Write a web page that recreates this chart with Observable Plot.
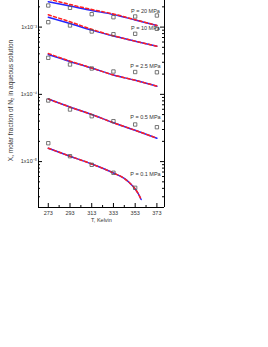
<!DOCTYPE html>
<html><head><meta charset="utf-8">
<script src="https://cdn.jsdelivr.net/npm/d3@7"></script>
<script src="https://cdn.jsdelivr.net/npm/@observablehq/plot@0.6"></script>
<style>body{margin:0;background:#fff} svg{display:block}</style>
</head><body><div id="chart"></div>
<script>
// Temperatures (K)
const T = [273, 293, 313, 333, 353, 373];
const T01 = [273, 293, 313, 333, 343, 348, 353, 356, 358.5];
const T01sq = [273, 293, 313, 333, 353];

// Model curves (blue solid) and second model (red dashed), molar fraction
const blue20 = [2.387e-3, 2.06e-3, 1.766e-3, 1.539e-3, 1.276e-3, 1.057e-3];
const red20  = [2.618e-3, 2.168e-3, 1.827e-3, 1.567e-3, 1.288e-3, 1.057e-3];
const blue10 = [1.403e-3, 1.131e-3, 9.02e-4, 7.35e-4, 6.17e-4, 5.20e-4];
const red10  = [1.523e-3, 1.199e-3, 9.27e-4, 7.42e-4, 6.19e-4, 5.20e-4];
const blue25 = [3.914e-4, 3.080e-4, 2.464e-4, 1.939e-4, 1.618e-4, 1.322e-4];
const red25  = [4.05e-4, 3.122e-4, 2.464e-4, 1.939e-4, 1.618e-4, 1.322e-4];
const blue05 = [8.53e-5, 6.48e-5, 5.016e-5, 3.776e-5, 2.920e-5, 2.228e-5];
const red05  = [8.53e-5, 6.48e-5, 5.016e-5, 3.776e-5, 2.920e-5, 2.228e-5];
const blue01 = [1.582e-5, 1.203e-5, 9.21e-6, 6.77e-6, 5.61e-6, 4.81e-6, 3.914e-6, 3.298e-6, 2.732e-6];
const red01  = [1.582e-5, 1.203e-5, 9.21e-6, 6.77e-6, 5.61e-6, 4.81e-6, 3.914e-6, 3.298e-6, 2.732e-6];

// Experimental points (open squares)
const sq20 = [2.095e-3, 1.936e-3, 1.556e-3, 1.403e-3, 1.438e-3, 1.487e-3];
const sq10 = [1.183e-3, 1.057e-3, 8.60e-4, 7.84e-4, 7.95e-4, 9.43e-4];
const sq25 = [3.495e-4, 2.779e-4, 2.423e-4, 2.186e-4, 2.149e-4, 2.127e-4];
const sq05 = [8.10e-5, 5.95e-5, 4.73e-5, 3.99e-5, 3.563e-5, 3.247e-5];
const sq01 = [1.877e-5, 1.203e-5, 8.96e-6, 6.82e-6, 4.076e-6];

// Pressure labels
const labels = ["P = 20 MPa", "P = 10 MPa", "P = 2.5 MPa", "P = 0.5 MPa", "P = 0.1 MPa"];
const labelT = 362.5;
const labelV = [1.723e-3, 9.53e-4, 2.640e-4, 4.572e-5, 6.43e-6];

// Ticks
const xMajor = [273, 293, 313, 333, 353, 373];
const xMinor = [283, 303, 323, 343, 363];
const yMajor = [1e-5, 1e-4, 1e-3];
const yMajorLabels = ["1x10\u207B\u2075", "1x10\u207B\u2074", "1x10\u207B\u00B3"];
const yMinor = [3e-6,4e-6,5e-6,6e-6,7e-6,8e-6,9e-6,
                2e-5,3e-5,4e-5,5e-5,6e-5,7e-5,8e-5,9e-5,
                2e-4,3e-4,4e-4,5e-4,6e-4,7e-4,8e-4,9e-4,2e-3];
const xTitle = "T, Kelvin";
const yTitle = "X, molar fraction of N\u2082 in aqueous solution";

const P = ["20", "10", "2.5", "0.5", "0.1"];
const blues = [blue20, blue10, blue25, blue05, blue01];
const reds = [red20, red10, red25, red05, red01];
const sqs = [sq20, sq10, sq25, sq05, sq01];
const tFor = (i) => i === 4 ? T01 : T;
const tSqFor = (i) => i === 4 ? T01sq : T;

const blueRows = [], redRows = [], sqRows = [];
P.forEach((p, i) => {
  blues[i].forEach((v, j) => blueRows.push({P: p, T: tFor(i)[j], v}));
  reds[i].forEach((v, j) => redRows.push({P: p, T: tFor(i)[j], v}));
  sqs[i].forEach((v, j) => sqRows.push({P: p, T: tSqFor(i)[j], v}));
});
const labelRows = labels.map((t, i) => ({t, T: labelT, v: labelV[i]}));
const yLab = new Map(yMajor.map((d, i) => [d, yMajorLabels[i]]));

const W = 268, H = 347, mL = 38, mR = 104, mT = 0, mB = 140;
const pw = W - mL - mR, ph = H - mT - mB;
const font = 5.5;
const xDom = [264, 380], yDom = [2.077e-6, 2.486e-3];

const chart = Plot.plot({
  width: W, height: H,
  marginLeft: mL, marginRight: mR, marginTop: mT, marginBottom: mB,
  x: {domain: xDom},
  y: {type: "log", domain: yDom},
  style: {fontFamily: "'Liberation Sans', Arial, sans-serif", background: "#fff", color: "#333"},
  marks: [
    Plot.line(blueRows, {x: "T", y: "v", z: "P", stroke: "#2424ff", strokeWidth: 1.5, curve: "monotone-x", clip: true}),
    Plot.line(redRows, {x: "T", y: "v", z: "P", stroke: "#ff2020", strokeWidth: 1.5, strokeDasharray: "3,2.5", curve: "monotone-x", clip: true}),
    Plot.dot(sqRows, {x: "T", y: "v", symbol: "square", r: 1.9, stroke: "#555", strokeWidth: 0.8, fill: "none"}),
    Plot.text(labelRows, {x: "T", y: "v", text: "t", fontSize: font, fill: "#333"}),
    // frame
    Plot.ruleX([xDom[0]], {stroke: "#000", strokeWidth: 1}),
    Plot.ruleX([xDom[1]], {stroke: "#000", strokeWidth: 1}),
    Plot.ruleY([yDom[0]], {stroke: "#000", strokeWidth: 1}),
    // inward ticks
    Plot.tickY(yMajor, {y: d => d, insetRight: pw - 4, stroke: "#000"}),
    Plot.tickY(yMinor, {y: d => d, insetRight: pw - 2, stroke: "#000"}),
    Plot.tickY(yMajor, {y: d => d, insetLeft: pw - 4, stroke: "#000"}),
    Plot.tickY(yMinor, {y: d => d, insetLeft: pw - 2, stroke: "#000"}),
    Plot.tickX(xMajor, {x: d => d, insetTop: ph - 4, stroke: "#000"}),
    Plot.tickX(xMinor, {x: d => d, insetTop: ph - 2, stroke: "#000"}),
    // tick labels
    Plot.axisY(yMajor, {anchor: "left", tickSize: 0, tickPadding: 1.5, tickFormat: d => yLab.get(d), fontSize: font, label: null}),
    Plot.axisX(xMajor, {anchor: "bottom", tickSize: 0, tickPadding: 4, fontSize: font, label: null}),
    Plot.text([xTitle], {frameAnchor: "bottom", dy: 14, fontSize: font, fill: "#333"}),
    Plot.text([yTitle], {x: () => 238.2, y: () => 8.1e-5, rotate: -90, fontSize: 6.5, fill: "#333"})
  ]
});
document.getElementById("chart").appendChild(chart);
</script></body></html>
